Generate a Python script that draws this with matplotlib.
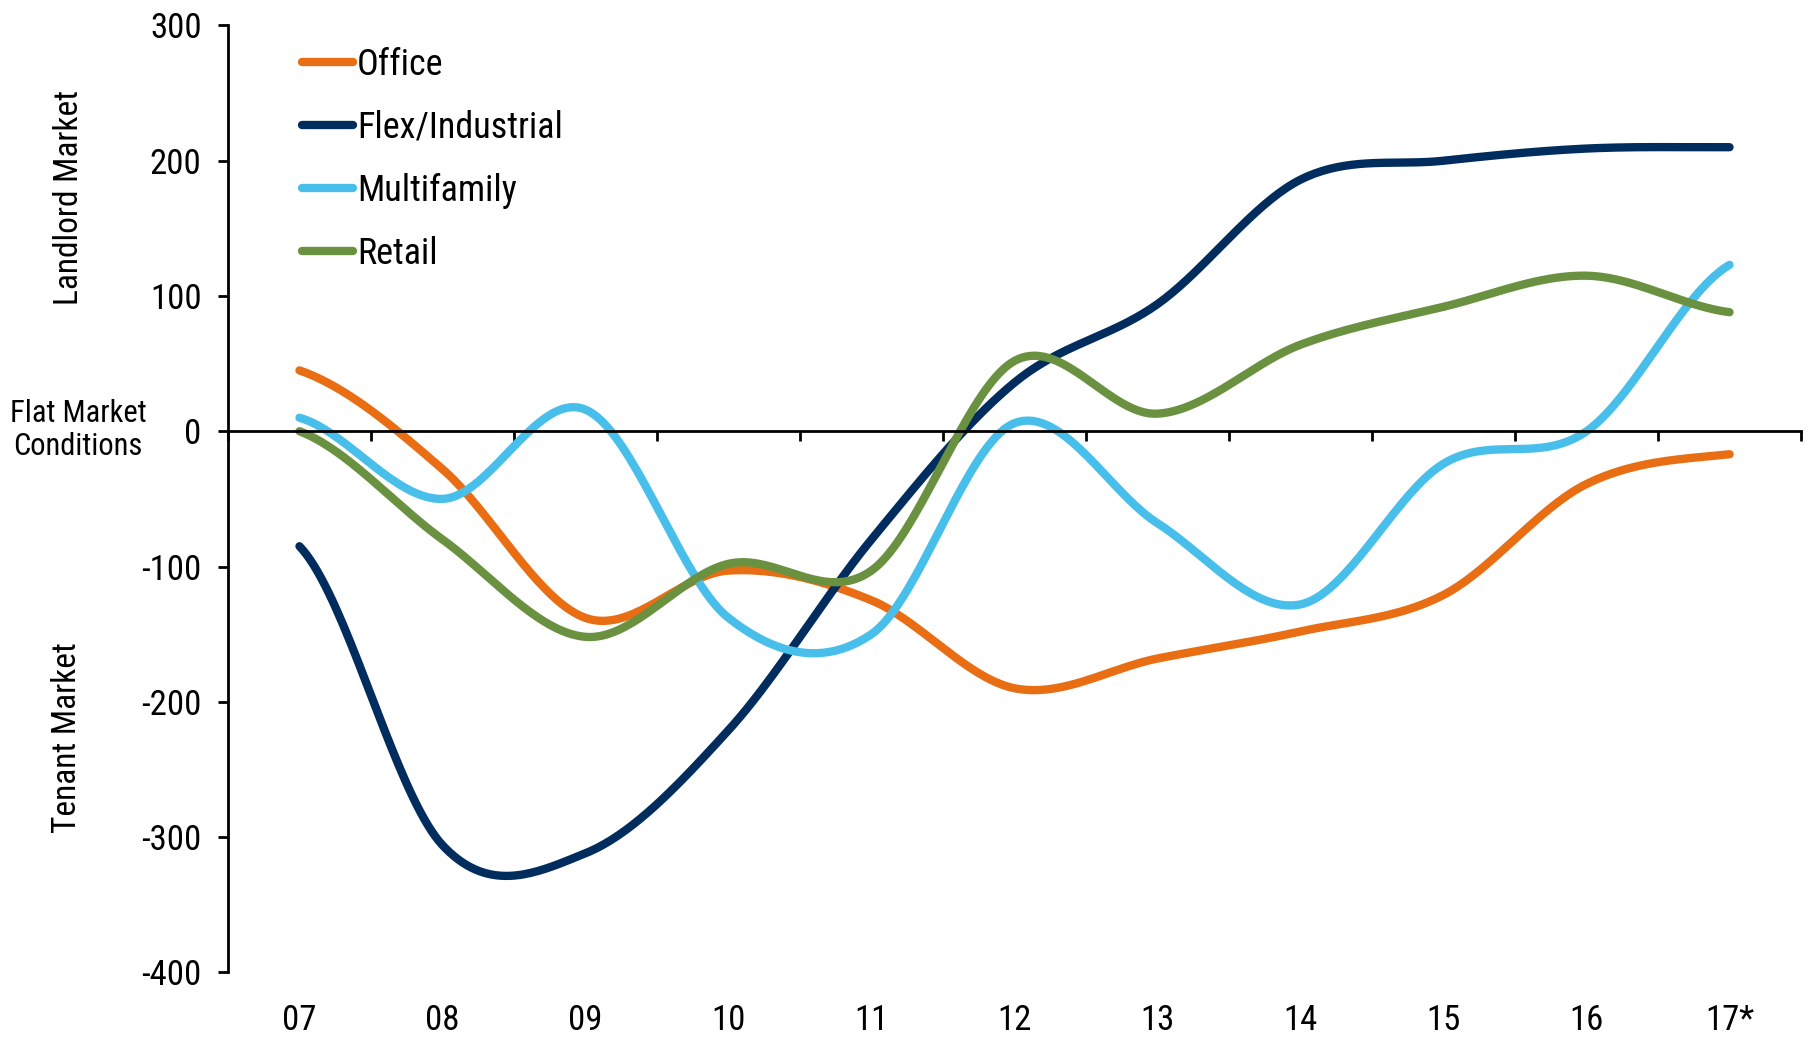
import numpy as np
import matplotlib
matplotlib.use('Agg')
import matplotlib.pyplot as plt

plt.rcParams['font.family'] = ['Roboto Condensed', 'DejaVu Sans']

# Dados (um valor por ano)
anos = ['07', '08', '09', '10', '11', '12', '13', '14', '15', '16', '17*']
office = [45, -28, -138, -103, -125, -190, -168, -148, -121, -39, -17]
flex = [-85, -306, -312, -221, -80, 36, 94, 186, 200, 209, 210]
multifamily = [10, -50, 16, -138, -150, 6, -68, -128, -24, 0, 123]
retail = [0, -80, -152, -98, -103, 52, 13, 64, 92, 115, 88]
y_ticks = [-400, -300, -200, -100, 0, 100, 200, 300]

series = [('Office', office, '#E96D12'),
          ('Flex/Industrial', flex, '#002D5E'),
          ('Multifamily', multifamily, '#48BFEA'),
          ('Retail', retail, '#6A9140')]


# Suavizacao tipo Excel (Bezier com pontos de controle a 1/6)
def suavizar(y, n=40):
    y = np.asarray(y, dtype=float)
    ext = np.concatenate([[y[0]], y, [y[-1]]])
    xs, ys = [], []
    t = np.linspace(0, 1, n)
    for i in range(len(y) - 1):
        p0 = ext[i + 1]
        p3 = ext[i + 2]
        p1 = p0 + (ext[i + 2] - ext[i]) / 6
        p2 = p3 - (ext[i + 3] - ext[i + 1]) / 6
        b = (1 - t) ** 3 * p0 + 3 * (1 - t) ** 2 * t * p1 + 3 * (1 - t) * t ** 2 * p2 + t ** 3 * p3
        xs.append(i + t)
        ys.append(b)
    return np.concatenate(xs), np.concatenate(ys)


fig = plt.figure(figsize=(18.15, 10.39), dpi=100)
ax = fig.add_axes([0.1256, 0.0642, 0.8667, 0.9113])

for nome, valores, cor in series:
    xs, ys = suavizar(valores)
    ax.plot(xs, ys, color=cor, lw=6, label=nome, solid_capstyle='round')

ax.set_xlim(-0.5, len(anos) - 0.5)
ax.set_ylim(-400, 300)

ax.spines['top'].set_visible(False)
ax.spines['right'].set_visible(False)
ax.spines['bottom'].set_position(('data', 0))
ax.spines['bottom'].set_linewidth(2)
ax.spines['left'].set_linewidth(2)

ax.set_xticks(np.arange(-0.5, len(anos), 1))
ax.set_xticklabels([])
ax.tick_params(axis='x', direction='out', length=7, width=2)
ax.set_yticks(y_ticks)
ax.set_yticklabels([str(v) for v in y_ticks])
ax.tick_params(axis='y', direction='out', length=7, width=2, labelsize=25, pad=12)

# Rotulos dos anos na base do grafico
sec = ax.secondary_xaxis('bottom')
sec.set_xticks(range(len(anos)))
sec.set_xticklabels(anos)
sec.tick_params(length=0, labelsize=25, pad=23)
sec.spines['bottom'].set_visible(False)

fig.text(0.038, 0.81, 'Landlord Market', rotation=90, ha='center', va='center', fontsize=24)
fig.text(0.037, 0.29, 'Tenant Market', rotation=90, ha='center', va='center', fontsize=24)
fig.text(0.043, 0.586, 'Flat Market\nConditions', ha='center', va='center', fontsize=22, linespacing=1.15)

ax.legend(loc='upper left', bbox_to_anchor=(0.1665, 0.955), bbox_transform=fig.transFigure,
          frameon=False, fontsize=26, handlelength=1.4, handletextpad=0.12,
          labelspacing=0.75, borderpad=0, borderaxespad=0)

plt.savefig('out.png', dpi=100)
